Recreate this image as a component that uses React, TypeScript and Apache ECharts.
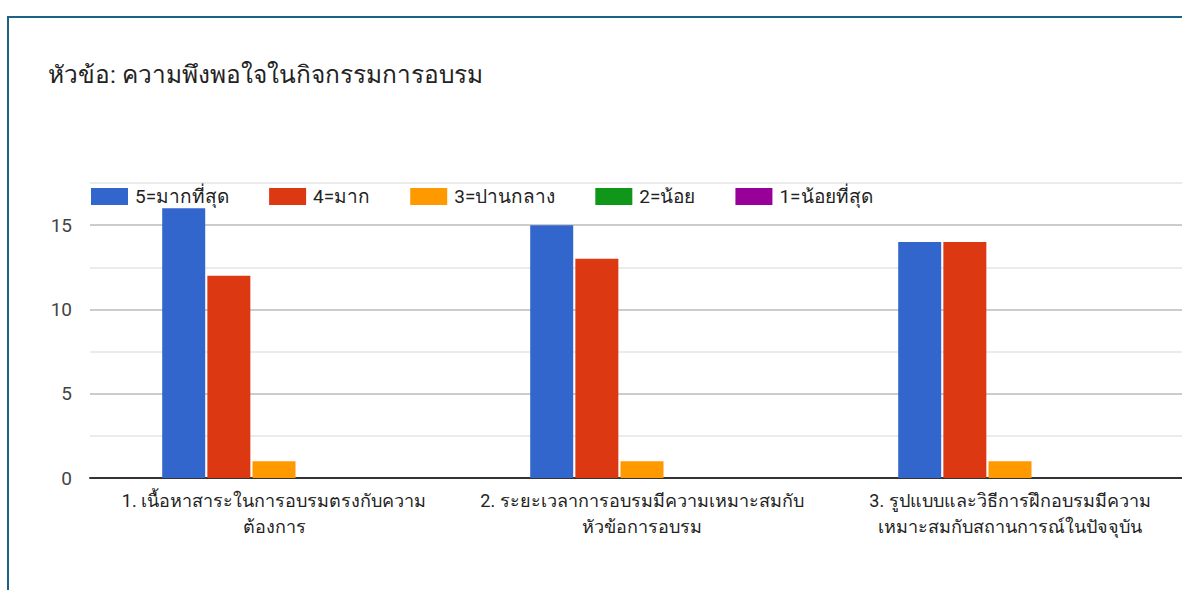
import React, { useEffect, useRef } from "react";
import * as echarts from "echarts";

const titleText = "หัวข้อ: ความพึงพอใจในกิจกรรมการอบรม";
const categories = [
  "1. เนื้อหาสาระในการอบรมตรงกับความ\nต้องการ",
  "2. ระยะเวลาการอบรมมีความเหมาะสมกับ\nหัวข้อการอบรม",
  "3. รูปแบบและวิธีการฝึกอบรมมีความ\nเหมาะสมกับสถานการณ์ในปัจจุบัน",
];
const seriesNames = ["5=มากที่สุด", "4=มาก", "3=ปานกลาง", "2=น้อย", "1=น้อยที่สุด"];
const seriesColors = ["#3366cc", "#dc3912", "#ff9900", "#109618", "#990099"];
const level5 = [16, 15, 14];
const level4 = [12, 13, 14];
const level3 = [1, 1, 1];
const level2 = [0, 0, 0];
const level1 = [0, 0, 0];
const seriesValues = [level5, level4, level3, level2, level1];

const FONT = "Roboto, Arial, 'Noto Sans', sans-serif";

export default function App() {
  const ref = useRef<HTMLDivElement>(null);
  useEffect(() => {
    if (!ref.current) return;
    const chart = echarts.init(ref.current, null, { renderer: "svg" });
    chart.setOption({
      animation: false,
      backgroundColor: "#ffffff",
      title: {
        text: titleText,
        left: 43,
        top: 57,
        textStyle: { fontFamily: FONT, fontSize: 24.4, fontWeight: "normal", color: "#222222" },
      },
      legend: {
        left: 86,
        top: 182,
        itemWidth: 37,
        itemHeight: 17,
        itemGap: 40,
        icon: "rect",
        textStyle: { fontFamily: FONT, fontSize: 19, color: "#222222", padding: [0, 0, 0, 2] },
        itemStyle: { borderWidth: 0 },
        data: seriesNames,
      },
      grid: { left: 90, right: 6, top: 183, bottom: 112 },
      xAxis: {
        type: "category",
        data: categories,
        axisTick: { show: false },
        axisLine: { lineStyle: { color: "#333333", width: 2 } },
        axisLabel: {
          interval: 0,
          margin: 9,
          fontFamily: FONT,
          fontSize: 18,
          lineHeight: 26,
          color: "#222222",
        },
      },
      yAxis: {
        type: "value",
        min: 0,
        max: 17.5,
        interval: 2.5,
        axisLine: { show: false },
        axisTick: { show: false },
        axisLabel: {
          margin: 18,
          fontFamily: FONT,
          fontSize: 19,
          color: "#444444",
          formatter: (v: number) => (v % 5 === 0 ? String(v) : ""),
        },
        splitLine: { lineStyle: { color: ["#cccccc", "#ebebeb"], width: 2 } },
      },
      series: seriesNames.map((name, i) => ({
        name,
        type: "bar",
        data: seriesValues[i],
        barWidth: 43,
        barGap: "5%",
        itemStyle: { color: seriesColors[i] },
      })),
      graphic: [
        {
          type: "rect",
          shape: { x: 8, y: 17, width: 1400, height: 800 },
          style: { fill: "none", stroke: "#1b6285", lineWidth: 2 },
          z: 100,
        },
      ],
    });
    return () => chart.dispose();
  }, []);
  return (
    <div style={{ position: "fixed", left: 0, top: 0, width: 1182, height: 590, overflow: "hidden", background: "#fff" }}>
      <div ref={ref} style={{ width: 1200, height: 590 }} />
    </div>
  );
}
